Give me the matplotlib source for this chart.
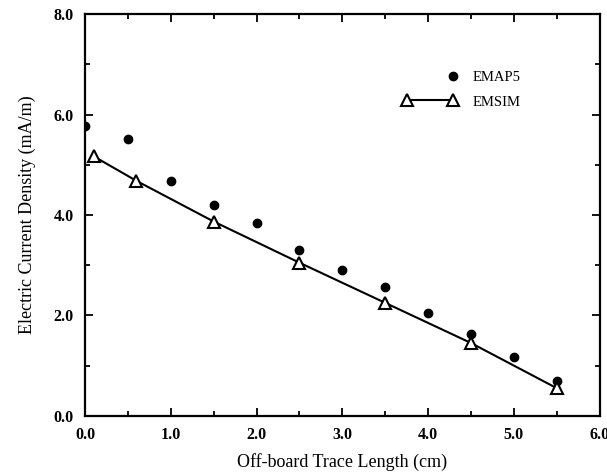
import matplotlib
matplotlib.use("Agg")
import matplotlib.pyplot as plt
from matplotlib.legend_handler import HandlerLine2DCompound
from matplotlib.ticker import MultipleLocator, FormatStrFormatter

# EMAP5 samples (filled dots)
emap5_length = [0.0, 0.5, 1.0, 1.5, 2.0, 2.5, 3.0, 3.5, 4.0, 4.5, 5.0, 5.5]
emap5_density = [5.77, 5.52, 4.67, 4.20, 3.85, 3.30, 2.90, 2.56, 2.05, 1.62, 1.17, 0.70]

# EMSIM results (open triangles joined by a line)
emsim_length = [0.1, 0.6, 1.5, 2.5, 3.5, 4.5, 5.5]
emsim_density = [5.17, 4.68, 3.87, 3.05, 2.25, 1.45, 0.55]

plt.rcParams["font.family"] = ["Liberation Serif", "DejaVu Serif"]


class DotAtEnd(HandlerLine2DCompound):
    """legend entry with a single marker sitting at the right end of the handle"""

    def get_xdata(self, legend, xdescent, ydescent, width, height, fontsize):
        xdata, _ = super().get_xdata(legend, xdescent, ydescent, width, height, fontsize)
        return xdata, xdata[-1:]


fig = plt.figure(figsize=(6.07, 4.72), dpi=100)
ax = fig.add_axes([0.140, 0.119, 0.848, 0.851])

(dots,) = ax.plot(emap5_length, emap5_density, linestyle="none", marker="o",
                  markersize=6, color="black", label="EMAP5")
(tri,) = ax.plot(emsim_length, emsim_density, color="black", linewidth=1.5,
                 marker="^", markersize=8, markerfacecolor="white",
                 markeredgecolor="black", markeredgewidth=1.5, label="EMSIM")

ax.set_xlim(0, 6)
ax.set_ylim(0, 8)
ax.xaxis.set_major_locator(MultipleLocator(1.0))
ax.xaxis.set_minor_locator(MultipleLocator(0.5))
ax.yaxis.set_major_locator(MultipleLocator(2.0))
ax.yaxis.set_minor_locator(MultipleLocator(1.0))
ax.xaxis.set_major_formatter(FormatStrFormatter("%.1f"))
ax.yaxis.set_major_formatter(FormatStrFormatter("%.1f"))

ax.tick_params(which="both", direction="in", top=True, right=True, width=1.3)
ax.tick_params(which="major", length=6)
ax.tick_params(which="minor", length=3.5)
ax.tick_params(axis="x", which="major", pad=8)
ax.tick_params(axis="y", which="major", pad=8)
for lbl in ax.get_xticklabels() + ax.get_yticklabels():
    lbl.set_fontsize(11.5)
    lbl.set_fontweight("bold")
for sp in ax.spines.values():
    sp.set_linewidth(1.6)

ax.set_xlabel("Off-board Trace Length (cm)", fontsize=13, labelpad=7)
ax.set_ylabel("Electric Current Density (mA/m)", fontsize=13, labelpad=13)

ax.legend(handles=[dots, tri], handler_map={dots: DotAtEnd(numpoints=2)},
          numpoints=2, frameon=False, loc="upper left",
          bbox_to_anchor=(0.618, 0.858), borderpad=0, borderaxespad=0,
          handlelength=3.7, handletextpad=1.1, labelspacing=0.75,
          prop={"size": 10.5})

fig.savefig("out.png", dpi=100)
